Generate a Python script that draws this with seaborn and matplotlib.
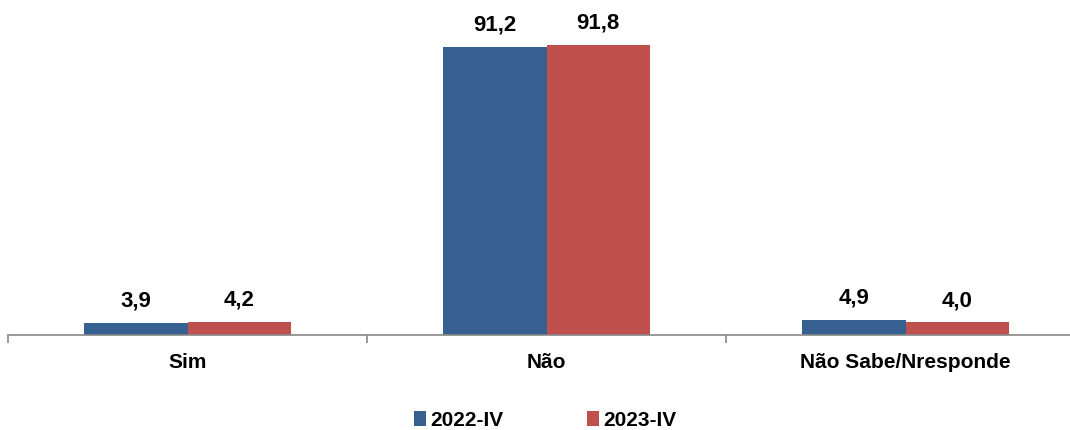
import pandas as pd
import matplotlib.pyplot as plt
import seaborn as sns

categories = ['Sim', 'Não', 'Não Sabe/Nresponde']
periods = ['2022-IV', '2023-IV']
vals_2022 = [3.9, 91.2, 4.9]
vals_2023 = [4.2, 91.8, 4.0]

df = pd.DataFrame({
    'categoria': categories * 2,
    'periodo': [periods[0]] * 3 + [periods[1]] * 3,
    'valor': vals_2022 + vals_2023,
})

sns.set_style('white')
plt.rcParams['font.family'] = ['Liberation Sans', 'DejaVu Sans']
plt.rcParams['text.color'] = 'black'
plt.rcParams['xtick.color'] = 'black'

fig = plt.figure(figsize=(10.7, 4.3), dpi=100)
# axis runs past the right edge like in the original (3 equal slots of ~359 px)
ax = fig.add_axes([8 / 1070, 95 / 430, 1077 / 1070, 335 / 430])

palette = {'2022-IV': '#36608F', '2023-IV': '#C0504D'}
sns.barplot(data=df, x='categoria', y='valor', hue='periodo', palette=palette,
            width=0.577, gap=0, saturation=1, linewidth=0, ax=ax, legend=True)

for c in ax.containers:
    ax.bar_label(c, labels=[f'{v:.1f}'.replace('.', ',') for v in c.datavalues],
                 padding=8, fontsize=16, fontweight='bold', color='black')

ax.set_xlim(-0.5, 2.5)
ax.set_ylim(0, 106)
ax.set_xlabel('')
ax.set_ylabel('')
ax.set_yticks([])
for s in ['top', 'right', 'left']:
    ax.spines[s].set_visible(False)
ax.spines['bottom'].set_color('#888888')
ax.spines['bottom'].set_linewidth(1.2)

ax.set_xticks([0, 1, 2])
ax.set_xticklabels(categories, fontsize=15, fontweight='bold', color='black')
ax.tick_params(axis='x', which='major', bottom=False, length=0, pad=13)
ax.set_xticks([-0.5, 0.5, 1.5, 2.5], minor=True)
ax.tick_params(axis='x', which='minor', bottom=True, length=6, width=1.2,
               color='#888888', direction='out')

leg_x = (545 - 8) / 1077
ax.legend(loc='center', bbox_to_anchor=(leg_x, -0.255), ncol=2, frameon=False,
          prop={'weight': 'bold', 'size': 15}, handlelength=0.6, handleheight=0.75,
          handletextpad=0.2, columnspacing=4.0, title=None)

fig.savefig('out.png', dpi=100)
